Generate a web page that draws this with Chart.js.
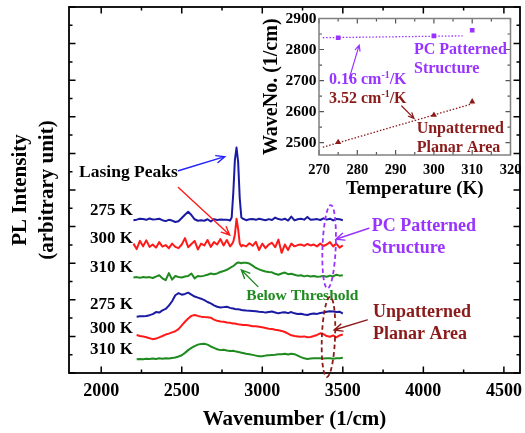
<!DOCTYPE html>
<html><head><meta charset="utf-8">
<script src="https://cdn.jsdelivr.net/npm/chart.js@4.4.0/dist/chart.umd.min.js"></script>
<style>
html,body{margin:0;padding:0;background:#fff;overflow:hidden}
#wrap{position:relative;width:525px;height:433px}
#main{position:absolute;left:0;top:0}
#inset{position:absolute;left:250px;top:0}
</style></head><body>
<div id="wrap"><canvas id="main" width="525" height="433"></canvas><canvas id="inset" width="275" height="200"></canvas></div>
<script>
// ---------------- main spectra data ----------------
const wavenumbers = [2200,2220,2240,2260,2280,2300,2320,2340,2360,2380,2400,2420,2440,2460,2480,2500,2520,2540,2560,2580,2600,2620,2640,2660,2680,2700,2720,2740,2760,2780,2800,
  2810,2820,2830,2840,2850,2860,2870,
  2880,2900,2920,2940,2960,2980,3000,3020,3040,3060,3080,3100,3120,3140,3160,3180,3200,3220,3240,3260,3280,3300,3320,3340,3360,3380,3400,3420,3440,3460,3480,3500];
const xTickValues = [2000, 2500, 3000, 3500, 4000, 4500];

const seriesNames = ['PC 275 K','PC 300 K','PC 310 K','Planar 275 K','Planar 300 K','Planar 310 K'];
const sampleLabels = ['275 K','300 K','310 K','275 K','300 K','310 K'];
const offsets = [8.35, 6.97, 5.22, 3.0, 2.0, 0.75];

const pc275 = [0.00,0.03,0.08,0.06,0.02,0.09,0.04,0.05,0.08,0.00,-0.05,0.02,-0.02,-0.10,-0.06,0.12,0.30,0.46,0.28,0.05,-0.03,0.00,-0.03,0.05,-0.07,0.06,0.01,0.04,0.02,0.03,-0.02,
  0.15,1.50,3.30,3.97,3.20,1.20,0.15,
  0.08,0.00,0.05,0.07,0.02,0.08,0.04,0.00,0.06,0.01,0.14,0.06,0.02,0.08,-0.02,0.20,-0.01,0.05,0.08,0.03,0.18,0.02,0.04,0.06,0.01,0.10,0.03,0.08,-0.01,0.07,0.05,0.00];
const pc300 = [0.10,-0.20,0.25,-0.05,0.28,-0.08,0.05,-0.12,0.18,-0.06,0.02,-0.15,0.10,-0.08,-0.15,0.05,0.40,-0.10,0.08,0.25,-0.22,0.10,0.00,0.30,-0.08,0.18,0.05,0.35,0.00,0.30,-0.05,
  0.05,0.20,0.60,1.46,0.90,0.10,-0.05,
  0.02,-0.05,0.12,-0.02,0.20,-0.25,0.10,-0.15,0.05,0.15,-0.10,0.32,-0.40,0.05,-0.25,0.10,-0.05,0.02,0.05,-0.02,0.08,0.00,0.05,-0.05,0.10,-0.03,0.05,0.18,-0.05,0.10,-0.12,0.00];
const pc310 = [0.00,0.02,-0.02,0.03,0.00,0.02,-0.03,0.05,0.12,-0.05,-0.15,0.24,-0.12,0.08,0.03,0.00,0.05,0.08,0.22,-0.05,0.08,0.06,0.10,0.15,0.22,0.18,0.22,0.30,0.35,0.42,0.52,
  0.58,0.62,0.70,0.78,0.82,0.80,0.78,
  0.80,0.80,0.76,0.65,0.52,0.44,0.38,0.33,0.30,0.28,0.20,0.15,0.22,0.27,0.18,0.20,0.15,0.10,0.12,0.06,0.10,0.05,0.08,0.04,0.05,0.08,0.04,0.10,0.06,0.15,0.10,0.12];
const planar275 = [null,0.08,0.10,0.10,0.12,0.16,0.22,0.33,0.30,0.42,0.50,0.68,0.92,1.25,1.36,1.28,1.32,1.39,1.28,1.18,1.12,1.06,0.98,0.88,0.80,0.70,0.62,0.58,0.60,0.62,0.56,
  0.54,0.52,0.50,0.49,0.48,0.47,0.44,
  0.43,0.41,0.40,0.39,0.37,0.35,0.34,0.30,0.33,0.36,0.31,0.26,0.30,0.32,0.27,0.33,0.26,0.22,0.24,0.20,0.17,0.22,0.25,0.23,0.28,0.30,0.35,0.38,0.36,0.33,0.35,0.25];
const planar300 = [null,0.08,0.02,0.00,-0.05,-0.10,-0.15,-0.12,-0.05,0.02,0.10,0.15,0.22,0.28,0.40,0.60,0.80,0.98,1.12,1.17,1.12,1.08,1.06,1.05,1.02,0.92,0.85,0.82,0.80,0.76,0.74,
  0.72,0.70,0.70,0.68,0.66,0.65,0.64,
  0.62,0.62,0.60,0.56,0.55,0.53,0.50,0.46,0.42,0.40,0.36,0.34,0.30,0.24,0.15,0.06,0.02,0.00,-0.02,0.00,-0.05,-0.03,0.02,0.08,0.17,0.12,0.02,-0.02,0.05,-0.05,0.05,0.10];
const planar310 = [null,0.00,0.02,0.00,0.03,0.01,0.04,0.02,0.05,0.03,0.06,0.04,0.07,0.10,0.15,0.22,0.35,0.50,0.62,0.72,0.80,0.84,0.85,0.80,0.70,0.62,0.55,0.50,0.52,0.48,0.45,
  0.45,0.47,0.44,0.42,0.40,0.38,0.36,
  0.34,0.30,0.27,0.24,0.20,0.16,0.17,0.20,0.22,0.24,0.25,0.27,0.28,0.30,0.26,0.30,0.28,0.20,0.12,0.05,0.02,0.04,0.05,0.06,0.05,0.04,0.06,0.05,0.03,0.05,0.06,0.08];

// ---------------- inset data ----------------
const temperatures = [275, 300, 310];
const pcPeakWaveNo = [2838, 2844, 2862];
const planarPeakWaveNo = [2501, 2589, 2632];
const pcFitT = [271, 307.5];
const pcFitW = [2838, 2844];
const planarFitT = [271, 310];
const planarFitW = [2485, 2625];

// ---------------- styling ----------------
const FONT = "'Liberation Serif','Times New Roman',serif";
const BLUE = '#1a1aa3', RED = '#ff1a1a', GREEN = '#1f8a1f', PURPLE = '#9933ff', DARKRED = '#8b1a1a', ARROWBLUE = '#2222ff';
const traceColors = [BLUE, RED, GREEN, BLUE, RED, GREEN];
const seriesValues = [pc275, pc300, pc310, planar275, planar300, planar310];

Chart.defaults.font.family = FONT;
Chart.defaults.font.weight = 'bold';
Chart.defaults.color = '#000';

// annotations (data coordinates)
const sampleLabelX = 2197;
const sampleLabelY = [8.9, 7.36, 5.78, 3.72, 2.4, 1.26];
const mainTexts = [
  {t:'Lasing Peaks', x:2169, y:10.93, align:'center', color:'#000', size:17.5},
  {t:'Below Threshold', x:3249, y:4.21, align:'center', color:GREEN, size:15.5},
  {t:'PC Patterned', x:3679, y:7.99, align:'left', color:PURPLE, size:18},
  {t:'Structure', x:3679, y:6.81, align:'left', color:PURPLE, size:18},
  {t:'Unpatterned', x:3687, y:3.32, align:'left', color:DARKRED, size:18},
  {t:'Planar Area', x:3687, y:2.11, align:'left', color:DARKRED, size:18}
];
const mainArrows = [
  {x1:2479, y1:11.05, x2:2767, y2:11.82, color:ARROWBLUE},
  {x1:2479, y1:10.14, x2:2798, y2:7.54, color:RED},
  {x1:2973, y1:4.72, x2:2870, y2:5.63, color:GREEN},
  {x1:3662, y1:7.91, x2:3457, y2:7.31, color:PURPLE},
  {x1:3652, y1:2.9, x2:3446, y2:2.35, color:DARKRED}
];
const mainEllipses = [
  {x:3415, y:6.9, rx:41, ry:2.28, rot:0.04, color:PURPLE},
  {x:3411, y:1.97, rx:41, ry:2.19, rot:0.04, color:DARKRED}
];
const insetTexts = [
  {parts:[['0.16 cm',0],['-1',1],['/K',0]], x:272.6, y:2701.6, color:PURPLE, size:16},
  {parts:[['3.52 cm',0],['-1',1],['/K',0]], x:272.6, y:2640, color:DARKRED, size:16},
  {parts:[['PC Patterned',0]], x:294.8, y:2800, color:PURPLE, size:16},
  {parts:[['Structure',0]], x:294.8, y:2737, color:PURPLE, size:16},
  {parts:[['Unpatterned',0]], x:295.5, y:2543, color:DARKRED, size:16},
  {parts:[['Planar Area',0]], x:295.5, y:2482, color:DARKRED, size:16}
];
const insetArrows = [
  {x1:277.9, y1:2707, x2:280.5, y2:2814, color:PURPLE},
  {x1:291.6, y1:2618, x2:294.8, y2:2578, color:DARKRED}
];

// ---------------- helpers ----------------
function arrow(ctx, x1, y1, x2, y2, color, lw, head){
  ctx.save(); ctx.strokeStyle = color; ctx.lineWidth = lw; ctx.lineCap = 'round';
  ctx.beginPath(); ctx.moveTo(x1, y1); ctx.lineTo(x2, y2);
  const a = Math.atan2(y2 - y1, x2 - x1);
  ctx.moveTo(x2 - head*Math.cos(a - 0.42), y2 - head*Math.sin(a - 0.42));
  ctx.lineTo(x2, y2);
  ctx.lineTo(x2 - head*Math.cos(a + 0.42), y2 - head*Math.sin(a + 0.42));
  ctx.stroke(); ctx.restore();
}
function richText(ctx, parts, x, y, color, size, align){
  ctx.save(); ctx.fillStyle = color; ctx.textBaseline = 'middle';
  let total = 0;
  parts.forEach(([s, sup]) => { ctx.font = `bold ${sup ? size*0.62 : size}px ${FONT}`; total += ctx.measureText(s).width; });
  let cx = align === 'center' ? x - total/2 : (align === 'right' ? x - total : x);
  ctx.textAlign = 'left';
  parts.forEach(([s, sup]) => {
    ctx.font = `bold ${sup ? size*0.62 : size}px ${FONT}`;
    ctx.fillText(s, cx, sup ? y - size*0.3 : y);
    cx += ctx.measureText(s).width;
  });
  ctx.restore();
}
// list of {value, major} tick marks for a scale: labelled ticks are major; halfway points are minor
function tickMarks(scale, useMidpoints, majorEvery){
  const vals = scale.ticks.map(t => t.value);
  const out = [];
  if (useMidpoints){
    vals.forEach(v => out.push({value: v, major: true}));
    if (vals.length > 1){
      const step = vals[1] - vals[0];
      for (let i = -1; i < vals.length; i++){
        const m = vals[0] + (i + 0.5) * step;
        if (m > scale.min && m < scale.max) out.push({value: m, major: false});
      }
    }
  } else {
    vals.forEach(v => out.push({value: v, major: Math.round(v) % majorEvery === 0}));
  }
  return out;
}
function drawFrame(chart, cfg){
  const {ctx, chartArea: a, scales: {x, y}} = chart;
  ctx.save();
  ctx.strokeStyle = cfg.tickColor; ctx.lineWidth = cfg.tickWidth;
  ctx.beginPath();
  tickMarks(x, cfg.xMid, cfg.xMajor).forEach(t => {
    const p = x.getPixelForValue(t.value);
    const L = t.major ? cfg.major : cfg.minor;
    ctx.moveTo(p, a.bottom); ctx.lineTo(p, a.bottom - L);
    ctx.moveTo(p, a.top); ctx.lineTo(p, a.top + L);
  });
  tickMarks(y, cfg.yMid, cfg.yMajor).forEach(t => {
    const p = y.getPixelForValue(t.value);
    const L = t.major ? cfg.major : cfg.minor;
    ctx.moveTo(a.left, p); ctx.lineTo(a.left + L, p);
    ctx.moveTo(a.right, p); ctx.lineTo(a.right - L, p);
  });
  ctx.stroke();
  ctx.strokeStyle = cfg.color; ctx.lineWidth = cfg.lw;
  ctx.strokeRect(a.left, a.top, a.right - a.left, a.bottom - a.top);
  ctx.restore();
}
function noPad(s){ s.paddingLeft = 0; s.paddingRight = 0; s.paddingTop = 0; s.paddingBottom = 0; }

// ---------------- main chart ----------------
const mainPlugin = {
  id: 'mainDecor',
  afterDraw(chart){
    const {ctx, scales: {x, y}} = chart;
    drawFrame(chart, {color:'#000', lw:1.8, tickColor:'#000', tickWidth:1.5, major:6.5, minor:3.5, xMid:true, yMid:false, yMajor:2});
    sampleLabels.forEach((s, i) => richText(ctx, [[s,0]], x.getPixelForValue(sampleLabelX), y.getPixelForValue(sampleLabelY[i]), '#000', 17, 'right'));
    mainTexts.forEach(t => richText(ctx, [[t.t,0]], x.getPixelForValue(t.x), y.getPixelForValue(t.y), t.color, t.size, t.align));
    mainArrows.forEach(a => arrow(ctx, x.getPixelForValue(a.x1), y.getPixelForValue(a.y1), x.getPixelForValue(a.x2), y.getPixelForValue(a.y2), a.color, 1.4, 9));
    mainEllipses.forEach(e => {
      const cx = x.getPixelForValue(e.x), cy = y.getPixelForValue(e.y);
      const rx = Math.abs(x.getPixelForValue(e.x + e.rx) - cx), ry = Math.abs(y.getPixelForValue(e.y + e.ry) - cy);
      ctx.save(); ctx.strokeStyle = e.color; ctx.lineWidth = 1.8; ctx.setLineDash([4.5, 3]);
      ctx.beginPath(); ctx.ellipse(cx, cy, rx, ry, e.rot, 0, Math.PI*2); ctx.stroke(); ctx.restore();
    });
  }
};

new Chart(document.getElementById('main'), {
  type: 'line',
  data: {
    datasets: seriesValues.map((vals, i) => ({
      label: seriesNames[i],
      data: wavenumbers.map((w, j) => ({x: w, y: vals[j] === null ? null : vals[j] + offsets[i]})),
      borderColor: traceColors[i], borderWidth: 2, pointRadius: 0, tension: 0, fill: false,
      borderJoinStyle: 'round', spanGaps: false
    }))
  },
  options: {
    responsive: false, animation: false, devicePixelRatio: 1,
    layout: {padding: {top: 7, right: 5, left: 0, bottom: 0}},
    plugins: {legend: {display: false}, tooltip: {enabled: false}},
    scales: {
      x: {
        type: 'linear', min: 1800, max: 4600,
        afterBuildTicks: s => { s.ticks = xTickValues.map(v => ({value: v})); },
        ticks: {autoSkip: false, maxRotation: 0, minRotation: 0, padding: 8,
          font: {size: 18, weight: 'bold'}, color: '#000',
          callback: v => String(v)},
        grid: {display: false, drawTicks: false}, border: {display: false},
        title: {display: true, text: 'Wavenumber (1/cm)', font: {size: 21, weight: 'bold'}, color: '#000', padding: {top: 0, bottom: 1}},
        afterFit: s => { s.height = 60; noPad(s); }
      },
      y: {
        type: 'linear', min: 0, max: 20,
        ticks: {stepSize: 1, display: false},
        grid: {display: false, drawTicks: false}, border: {display: false},
        title: {display: true, text: ['PL Intensity', '(arbitrary unit)'], font: {size: 21, weight: 'bold', lineHeight: 1.3}, color: '#000', padding: {top: 6.5, bottom: 0}},
        afterFit: s => { s.width = 69; noPad(s); }
      }
    }
  },
  plugins: [mainPlugin]
});

// ---------------- inset chart ----------------
const insetPlugin = {
  id: 'insetDecor',
  afterDraw(chart){
    const {ctx, scales: {x, y}} = chart;
    drawFrame(chart, {color:'#808080', lw:1.5, tickColor:'#555', tickWidth:1.2, major:5, minor:3, xMid:false, xMajor:10, yMid:false, yMajor:100});
    insetTexts.forEach(t => richText(ctx, t.parts, x.getPixelForValue(t.x), y.getPixelForValue(t.y), t.color, t.size, 'left'));
    insetArrows.forEach(a => arrow(ctx, x.getPixelForValue(a.x1), y.getPixelForValue(a.y1), x.getPixelForValue(a.x2), y.getPixelForValue(a.y2), a.color, 1.2, 6));
  }
};

new Chart(document.getElementById('inset'), {
  type: 'scatter',
  data: {
    datasets: [
      {label: 'PC fit', data: pcFitT.map((t, i) => ({x: t, y: pcFitW[i]})), showLine: true, pointRadius: 0,
        borderColor: PURPLE, borderWidth: 1.3, borderDash: [1.5, 1.8]},
      {label: 'Planar fit', data: planarFitT.map((t, i) => ({x: t, y: planarFitW[i]})), showLine: true, pointRadius: 0,
        borderColor: DARKRED, borderWidth: 1.3, borderDash: [1.5, 1.8]},
      {label: 'PC Patterned Structure', data: temperatures.map((t, i) => ({x: t, y: pcPeakWaveNo[i]})), showLine: false,
        pointStyle: 'rect', pointRadius: 3.3, backgroundColor: PURPLE, borderColor: PURPLE, borderWidth: 0},
      {label: 'Unpatterned Planar Area', data: temperatures.map((t, i) => ({x: t, y: planarPeakWaveNo[i]})), showLine: false,
        pointStyle: 'triangle', pointRadius: 3.6, backgroundColor: DARKRED, borderColor: DARKRED, borderWidth: 0}
    ]
  },
  options: {
    responsive: false, animation: false, devicePixelRatio: 1,
    layout: {padding: {top: 18.5, right: 14.5, left: 0, bottom: 0}},
    plugins: {legend: {display: false}, tooltip: {enabled: false}},
    scales: {
      x: {
        type: 'linear', min: 270, max: 320,
        ticks: {stepSize: 5, includeBounds: false, autoSkip: false, maxRotation: 0, padding: 6.5,
          font: {size: 14.5, weight: 'bold'}, color: '#000',
          callback: v => (v % 10 === 0 ? String(v) : '')},
        grid: {display: false, drawTicks: false}, border: {display: false},
        title: {display: true, text: 'Temperature (K)', font: {size: 19, weight: 'bold'}, color: '#000', padding: {top: 0, bottom: 0}},
        afterFit: s => { s.height = 45; noPad(s); }
      },
      y: {
        type: 'linear', min: 2460, max: 2900,
        ticks: {stepSize: 50, includeBounds: false, autoSkip: false, padding: 2.5,
          font: {size: 15.5, weight: 'bold'}, color: '#000',
          callback: v => (v % 100 === 0 ? String(v) : '')},
        grid: {display: false, drawTicks: false}, border: {display: false},
        title: {display: true, text: 'WaveNo. (1/cm)', font: {size: 20, weight: 'bold'}, color: '#000', padding: {top: 10, bottom: 0}},
        afterFit: s => { s.width = 69; noPad(s); }
      }
    }
  },
  plugins: [insetPlugin]
});
</script>
</body></html>
